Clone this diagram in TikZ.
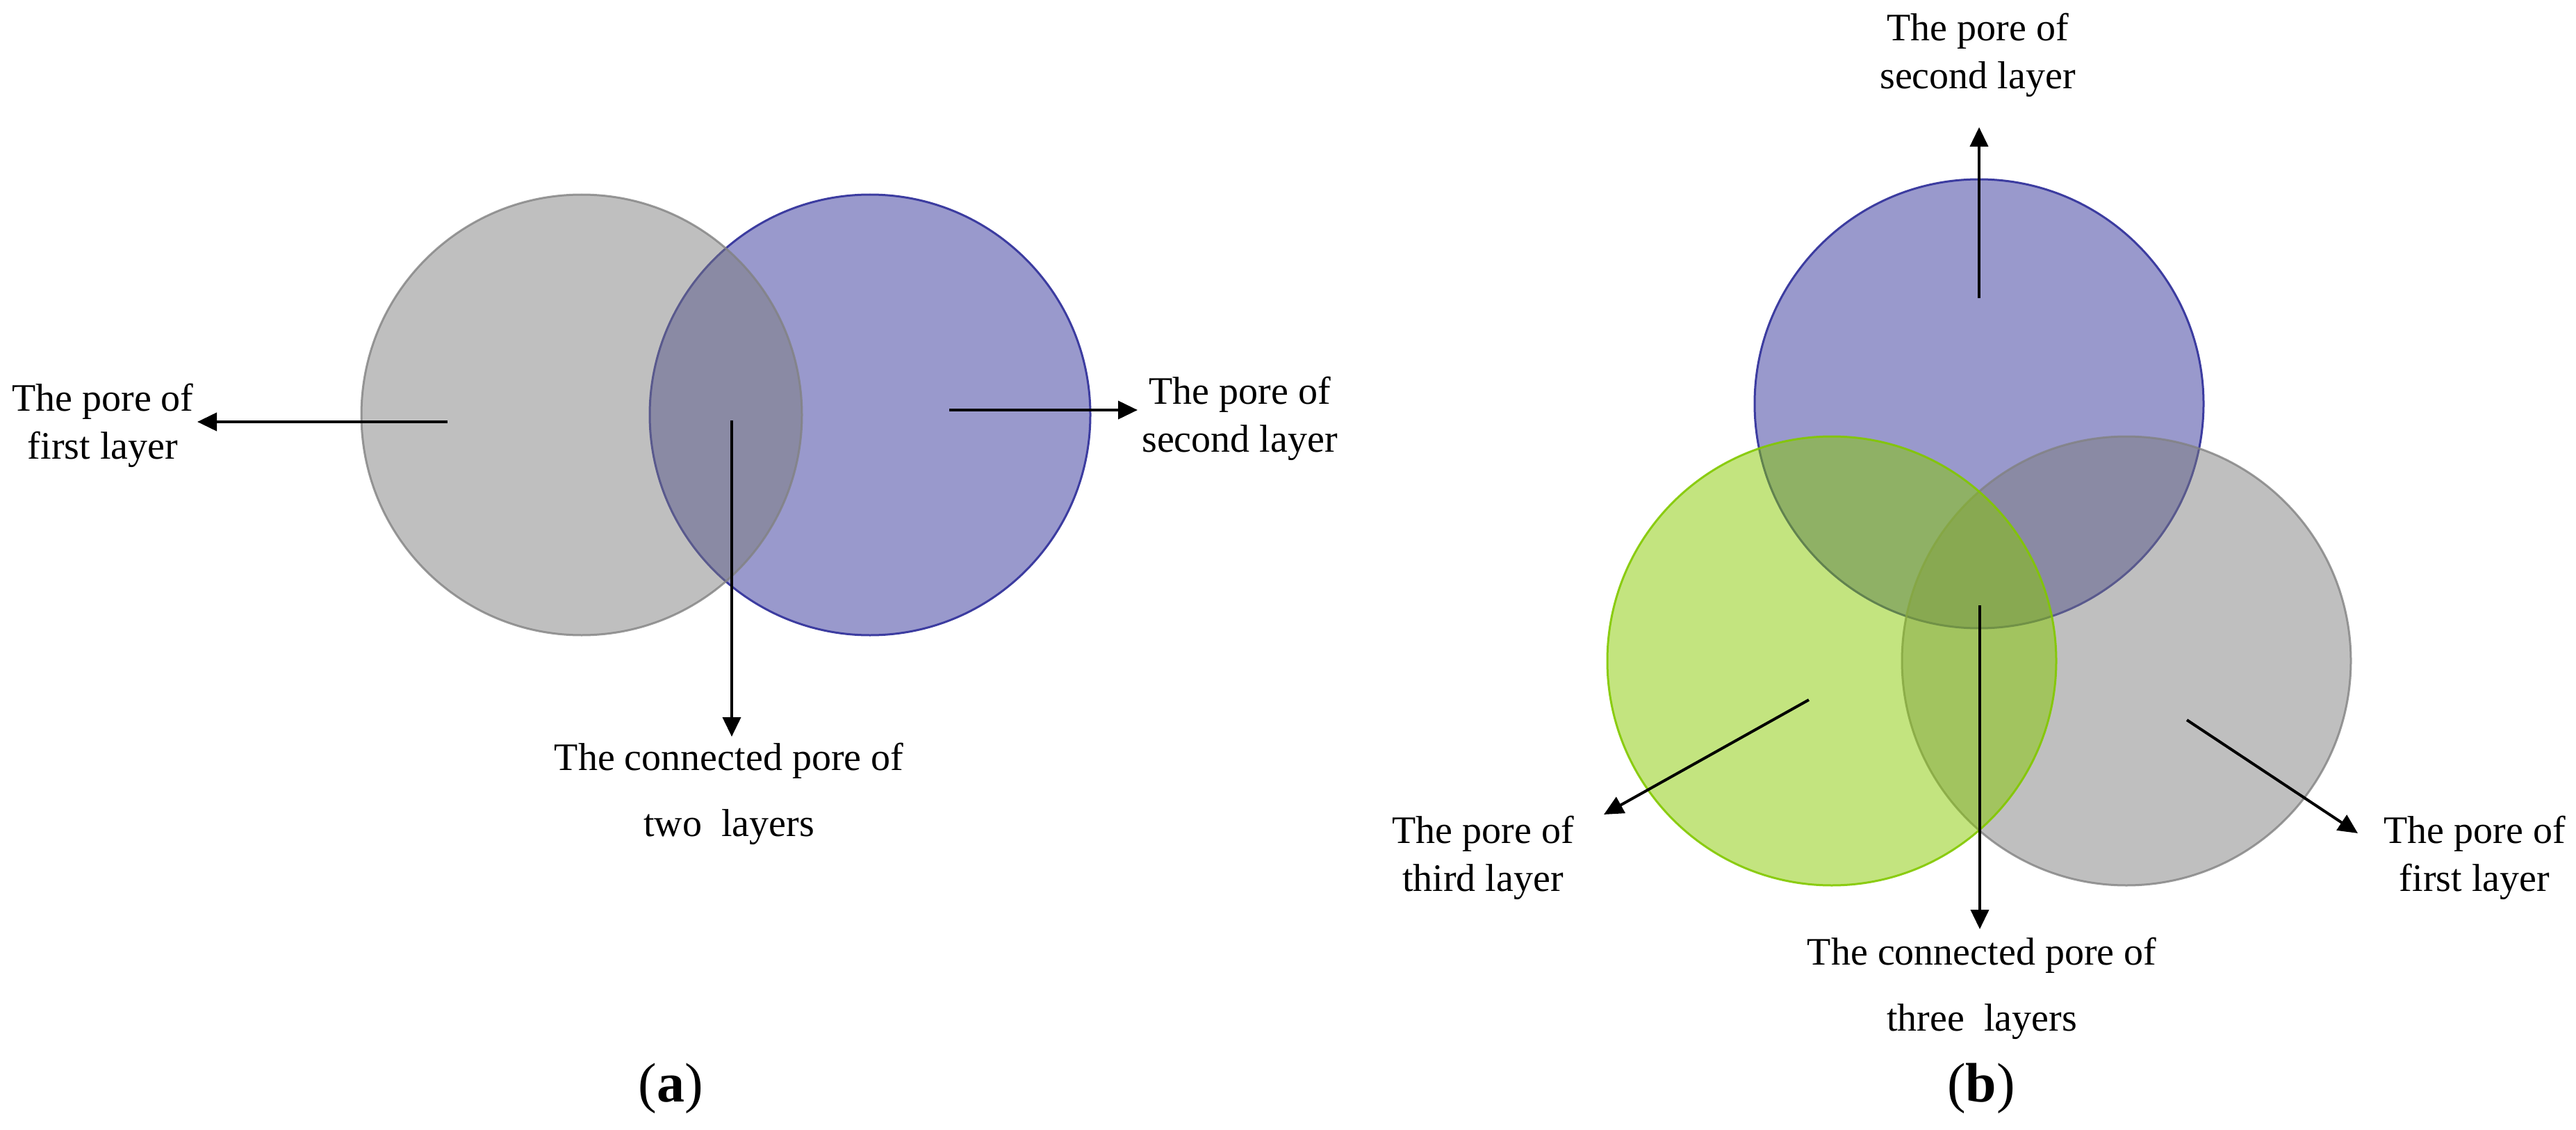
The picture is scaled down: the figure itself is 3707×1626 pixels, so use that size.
\documentclass[tikz,border=0pt]{standalone}
\usepackage{fontspec}
\setmainfont{Liberation Serif}
\usetikzlibrary{arrows.meta}
\definecolor{bluefill}{RGB}{153,153,204}
\definecolor{blueedge}{RGB}{60,60,160}
\definecolor{grayfill}{RGB}{122,122,122}
\definecolor{grayedge}{RGB}{130,130,130}
\definecolor{greenfill}{RGB}{135,201,0}
\definecolor{greenedge}{RGB}{130,200,0}
\tikzset{
  bluecirc/.style={circle, inner sep=0pt, fill=bluefill, draw=blueedge, line width=0.75pt},
  graycirc/.style={circle, inner sep=0pt, fill=grayfill, fill opacity=0.48, draw=grayedge, draw opacity=0.8, line width=0.75pt},
  greencirc/.style={circle, inner sep=0pt, fill=greenfill, fill opacity=0.5, draw=greenedge, draw opacity=0.9, line width=0.75pt},
  arr/.style={-{Triangle[length=7pt,width=6.5pt]}, line width=1pt, black},
  lbl/.style={align=center, anchor=base, inner sep=0pt, font=\fontsize{14}{17.25}\selectfont},
  lblwide/.style={align=center, anchor=base, inner sep=0pt, font=\fontsize{14}{23.75}\selectfont},
  captext/.style={anchor=base, inner sep=0pt, font=\fontsize{20}{24}\selectfont}
}
\begin{document}
\begin{tikzpicture}[x=0.25pt, y=-0.25pt]
\useasboundingbox (0,0) rectangle (3707,1626);
% ---------- panel (a) ----------
\node[bluecirc, minimum size=158.5pt] (a2) at (1252,597) {};
\node[graycirc, minimum size=158.5pt] (a1) at (837,597) {};
\coordinate (a1s) at (644,607);
\coordinate (a1t) at (284,607);
\coordinate (a2s) at (1366,590);
\coordinate (a2t) at (1637,590);
\coordinate (a12s) at (1053,605);
\coordinate (a12t) at (1053,1060);
\draw[arr] (a1s) -- (a1t);
\draw[arr] (a2s) -- (a2t);
\draw[arr] (a12s) -- (a12t);
% base anchor = baseline of the last line
\node[lbl] (la1) at (148,660) {The pore of\\first layer};
\node[lbl] (la2) at (1784,650) {The pore of\\second layer};
\node[lblwide] (la12) at (1049,1203) {The connected pore of\\two\ \ layers};
\node[captext] (capa) at (965,1585) {(\textbf{a})};
% ---------- panel (b) ----------
\node[bluecirc, minimum size=161.5pt] (b2) at (2848,581) {};
\node[graycirc, minimum size=161.5pt] (b1) at (3060,951) {};
\node[greencirc, minimum size=161.5pt] (b3) at (2636,951) {};
\coordinate (b2s) at (2848,429);
\coordinate (b2t) at (2848,183);
\coordinate (b123s) at (2849,871);
\coordinate (b123t) at (2849,1337);
\coordinate (b3s) at (2603,1007);
\coordinate (b3t) at (2308,1172);
\coordinate (b1s) at (3147,1036);
\coordinate (b1t) at (3393,1199);
\draw[arr] (b2s) -- (b2t);
\draw[arr] (b123s) -- (b123t);
\draw[arr] (b3s) -- (b3t);
\draw[arr] (b1s) -- (b1t);
\node[lbl] (lb2) at (2846,128) {The pore of\\second layer};
\node[lbl] (lb3) at (2134,1282) {The pore of\\third layer};
\node[lbl] (lb1) at (3561,1282) {The pore of\\first layer};
\node[lblwide] (lb123) at (2852,1483) {The connected pore of\\three\ \ layers};
\node[captext] (capb) at (2851,1585) {(\textbf{b})};
\end{tikzpicture}
\end{document}
